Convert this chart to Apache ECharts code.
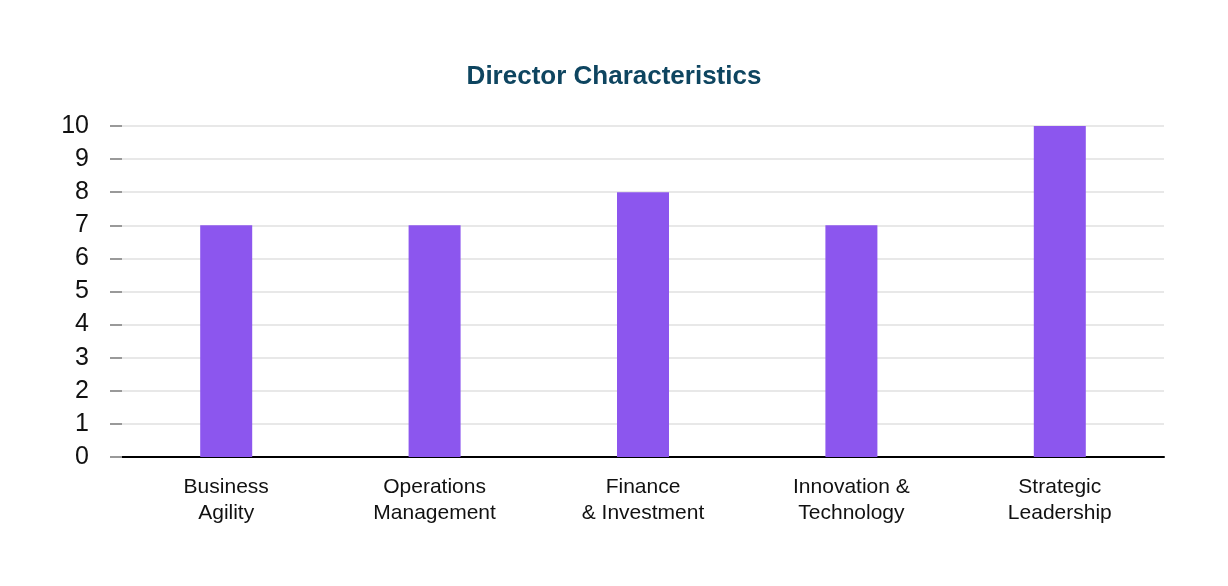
<!DOCTYPE html>
<html><head><meta charset="utf-8">
<script src="https://cdn.jsdelivr.net/npm/echarts@6/dist/echarts.min.js"></script>
<style>html,body{margin:0;padding:0;background:#fff}#c{width:1228px;height:586px}</style>
</head><body><div id="c"></div>
<script>
const categories = ["Business\nAgility", "Operations\nManagement", "Finance\n& Investment", "Innovation &\nTechnology", "Strategic\nLeadership"];
const values = [7, 7, 8, 7, 10];
const yTicks = [0, 1, 2, 3, 4, 5, 6, 7, 8, 9, 10];

const chart = echarts.init(document.getElementById('c'));
chart.setOption({
  backgroundColor: '#ffffff',
  title: {
    text: 'Director Characteristics',
    left: 'center', top: 59,
    textStyle: { fontFamily: 'Liberation Sans, Arial', fontSize: 26, fontWeight: 'bold', color: '#0e4560' }
  },
  grid: { left: 122, right: 64, top: 126, bottom: 129 },
  xAxis: {
    type: 'category', data: categories,
    axisLine: { show: true, lineStyle: { color: '#000', width: 2 } },
    axisTick: { show: false },
    axisLabel: { margin: 17, fontFamily: 'Liberation Sans, Arial', fontSize: 21, color: '#111', lineHeight: 26 }
  },
  yAxis: {
    type: 'value', min: yTicks[0], max: yTicks[yTicks.length - 1], interval: 1,
    axisLine: { show: false },
    axisTick: { show: true, length: 12, lineStyle: { color: '#999', width: 2 } },
    axisLabel: { margin: 33, fontFamily: 'Liberation Sans, Arial', fontSize: 25, color: '#111', padding: [4, 0, 0, 0] },
    splitLine: { lineStyle: { color: '#e8e8e8', width: 2 } }
  },
  series: [{
    type: 'bar', data: values, barWidth: 52,
    itemStyle: { color: '#8c56ee' }
  }]
});
</script></body></html>
